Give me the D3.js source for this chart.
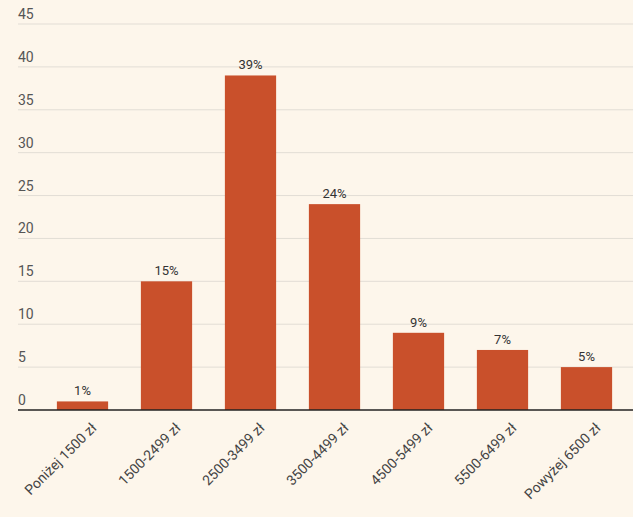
<!DOCTYPE html><html><head><meta charset="utf-8"><script src="https://cdn.jsdelivr.net/npm/d3@7"></script>
<style>body{margin:0;background:#fdf6eb}svg{display:block;font-family:Roboto,sans-serif}</style></head><body><svg width="633" height="517"></svg><script>
const categories=["Poniżej 1500 zł","1500-2499 zł","2500-3499 zł","3500-4499 zł","4500-5499 zł","5500-6499 zł","Powyżej 6500 zł"];
const values=[1,15,39,24,9,7,5];
const yTicks=[0,5,10,15,20,25,30,35,40,45];
const svg=d3.select("svg");
const x=d3.scaleBand().domain(categories).range([40.5,628.5]).paddingInner(0.39).paddingOuter(0.195);
const y=d3.scaleLinear().domain([0,45]).range([410,24]);
svg.append("rect").attr("width",633).attr("height",517).attr("fill","#fdf6eb");
const g=svg.append("g");
yTicks.forEach(t=>{
 if(t>0) g.append("line").attr("x1",18).attr("x2",633).attr("y1",y(t)).attr("y2",y(t)).attr("stroke","#e2ddd5").attr("stroke-width",1);
 g.append("text").attr("x",18).attr("y",y(t)-5).attr("font-size",14).attr("fill","#555").text(t);
});
g.selectAll(".b").data(values).join("rect").attr("x",(d,i)=>x(categories[i])).attr("width",x.bandwidth())
 .attr("y",d=>y(d)).attr("height",d=>410-y(d)).attr("fill","#c9502b");
g.selectAll(".v").data(values).join("text").attr("x",(d,i)=>x(categories[i])+x.bandwidth()/2).attr("y",d=>y(d)-6)
 .attr("text-anchor","middle").attr("font-size",13).attr("fill","#333").text(d=>d+"%");
g.append("line").attr("x1",18).attr("x2",633).attr("y1",410).attr("y2",410).attr("stroke","#222").attr("stroke-width",1.5);
categories.forEach(c=>{
 const cx=x(c)+x.bandwidth()/2+8;
 g.append("text").attr("transform",`translate(${cx},${422}) rotate(-45)`).attr("text-anchor","end").attr("dy","0.7em")
  .attr("font-size",14).attr("fill","#444").text(c);
});
</script></body></html>
